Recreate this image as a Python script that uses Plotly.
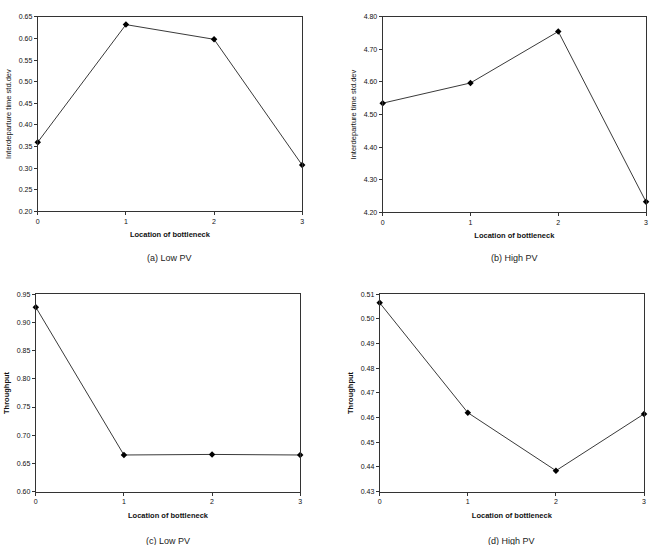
import plotly.graph_objects as go

locations = [0, 1, 2, 3]
std_low_pv = [0.360, 0.632, 0.598, 0.307]
std_high_pv = [4.535, 4.597, 4.755, 4.232]
thr_low_pv = [0.927, 0.665, 0.666, 0.665]
thr_high_pv = [0.5065, 0.462, 0.4385, 0.4615]

panels = [
    dict(y=std_low_pv, rng=[0.20, 0.65], dtick=0.05, fmt=".2f",
         ytitle="Interdeparture time std.dev", caption="(a) Low PV",
         xd=[36/658, 302/658], yd=[1-210/545, 1-13/545], cap=47),
    dict(y=std_high_pv, rng=[4.20, 4.80], dtick=0.10, fmt=".2f",
         ytitle="Interdeparture time std.dev", caption="(b) High PV",
         xd=[383/658, 648/658], yd=[1-211/545, 1-13/545], cap=46),
    dict(y=thr_low_pv, rng=[0.60, 0.95], dtick=0.05, fmt=".2f",
         ytitle="<b>Throughput</b>", caption="(c) Low PV",
         xd=[34/658, 300/658], yd=[1-494/545, 1-294/545], cap=50),
    dict(y=thr_high_pv, rng=[0.43, 0.51], dtick=0.01, fmt=".2f",
         ytitle="<b>Throughput</b>", caption="(d) High PV",
         xd=[380/658, 646/658], yd=[1-494/545, 1-294/545], cap=50),
]

fig = go.Figure()
annotations = []
font_fam = "Liberation Sans, Arial, sans-serif"
for i, p in enumerate(panels):
    n = "" if i == 0 else str(i + 1)
    fig.add_trace(go.Scatter(
        x=locations, y=p["y"], mode="lines+markers",
        line=dict(color="#3a3a3a", width=1),
        marker=dict(symbol="diamond", size=5, color="black"),
        xaxis="x" + n, yaxis="y" + n, showlegend=False, cliponaxis=False))
    axis_common = dict(showgrid=False, zeroline=False, showline=True, mirror=True,
                       linecolor="#333333", linewidth=1, ticks="outside", ticklen=3,
                       tickcolor="#333333",
                       tickfont=dict(size=7, color="#111111", family=font_fam))
    fig.layout["xaxis" + n] = dict(
        domain=p["xd"], anchor="y" + n, range=[0, 3], tickmode="array",
        tickvals=locations, ticktext=[str(v) for v in locations],
        title=dict(text="<b>Location of bottleneck</b>", standoff=8,
                   font=dict(size=7.5, color="#111111", family=font_fam)),
        **axis_common)
    fig.layout["yaxis" + n] = dict(
        domain=p["yd"], anchor="x" + n, range=p["rng"], dtick=p["dtick"],
        tickformat=p["fmt"],
        title=dict(text=p["ytitle"], standoff=6,
                   font=dict(size=7.5, color="#111111", family=font_fam)),
        **axis_common)
    cx = (p["xd"][0] + p["xd"][1]) / 2
    cy = p["yd"][0] - p["cap"]/545
    annotations.append(dict(text=p["caption"], xref="paper", yref="paper",
                            x=cx, y=cy, xanchor="center", yanchor="middle",
                            showarrow=False,
                            font=dict(size=9, color="#222222", family=font_fam)))

fig.update_layout(width=658, height=545, margin=dict(l=0, r=0, t=0, b=0),
                  paper_bgcolor="white", plot_bgcolor="white",
                  annotations=annotations)
fig.write_html("out.html")
